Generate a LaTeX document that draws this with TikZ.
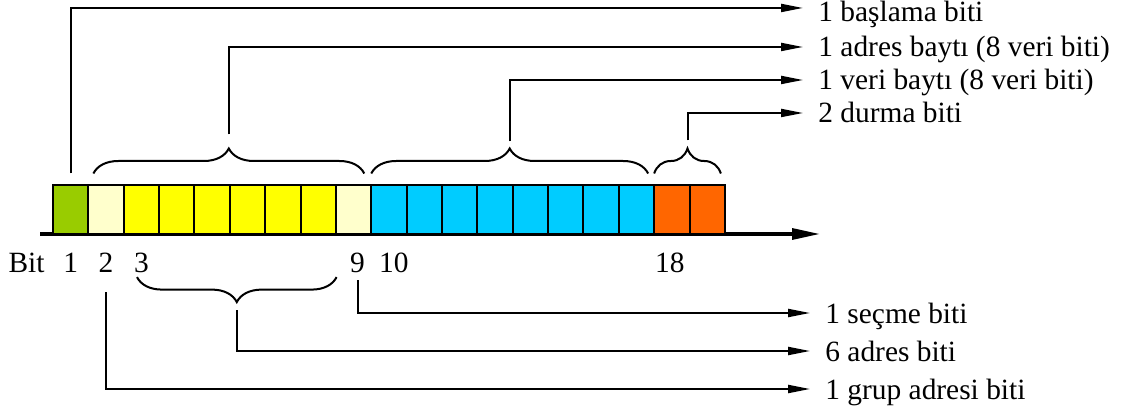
\documentclass[tikz,border=0pt]{standalone}
\usepackage{fontspec}
\setmainfont{Liberation Serif}
\usepackage{tikz}
\usetikzlibrary{arrows.meta}
\usetikzlibrary{calc}
\usetikzlibrary{positioning}
\usetikzlibrary{decorations.pathreplacing}

\definecolor{startgreen}{RGB}{153,204,0}
\definecolor{palebit}{RGB}{255,255,204}
\definecolor{addryellow}{RGB}{255,255,0}
\definecolor{datacyan}{RGB}{0,204,255}
\definecolor{stoporange}{RGB}{255,102,0}

\begin{document}
\begin{tikzpicture}
  [
    x = 0.5pt, y = -0.5pt,
    font = \fontsize{14.7}{17}\selectfont,
    node distance = 0pt and 0pt,
    cell/.style = {draw, line width = 1pt, minimum width = 17.68pt,
                  minimum height = 24.3pt, inner sep = 0pt, outer sep = 0pt},
    startbit/.style = {cell, fill=startgreen},
    ctrlbit/.style = {cell, fill=palebit},
    addrbit/.style = {cell, fill=addryellow},
    databit/.style = {cell, fill=datacyan},
    stopbit/.style = {cell, fill=stoporange},
    bitno/.style = {inner sep = 0pt},
    lbl/.style = {anchor = west, inner xsep = 7.5pt, inner ysep = 0pt,
                  text height = 1em, text depth = 0pt},
    conn/.style = {line width = 1pt, -{Triangle[length=11pt, width=4pt]}},
    brc/.style = {line width = 1pt, decorate, decoration = {brace, amplitude = 12.5pt}},
  ]

  \useasboundingbox (0,0) rectangle (1133,416);

  % time axis under the frame
  \coordinate (ax0) at (40,234);
  \coordinate (ax1) at (820,234);
  \draw[line width = 1.6pt, -{Triangle[length=14pt, width=5.5pt]}] (ax0) -- (ax1);

  % the 19 bits of the frame
  \node[startbit] (c1) at (70.7,209.8) {};
  \node[ctrlbit] [right = of c1] (c2) {};
  \node[addrbit] [right = of c2] (c3) {};
  \node[addrbit] [right = of c3] (c4) {};
  \node[addrbit] [right = of c4] (c5) {};
  \node[addrbit] [right = of c5] (c6) {};
  \node[addrbit] [right = of c6] (c7) {};
  \node[addrbit] [right = of c7] (c8) {};
  \node[ctrlbit] [right = of c8] (c9) {};
  \node[databit] [right = of c9] (c10) {};
  \node[databit] [right = of c10] (c11) {};
  \node[databit] [right = of c11] (c12) {};
  \node[databit] [right = of c12] (c13) {};
  \node[databit] [right = of c13] (c14) {};
  \node[databit] [right = of c14] (c15) {};
  \node[databit] [right = of c15] (c16) {};
  \node[databit] [right = of c16] (c17) {};
  \node[stopbit] [right = of c17] (c18) {};
  \node[stopbit] [right = of c18] (c19) {};

  % bit numbers
  \node[bitno] [below = 19pt of c1.south, anchor = base] (n1) {1};
  \node[bitno] [below = 19pt of c2.south, anchor = base] (n2) {2};
  \node[bitno] [below = 19pt of c3.south, anchor = base] (n3) {3};
  \node[bitno] [below = 19pt of c9.south, anchor = base, xshift = 2pt] (n9) {9};
  \node[bitno] [below = 19pt of c10.south, anchor = base, xshift = 2.5pt] (n10) {10};
  \node[bitno] [below = 19pt of c18.south, anchor = base, xshift = -1pt] (n18) {18};
  \node[bitno] [left = 9pt of n1.base west, anchor = base east] (bitlbl) {Bit};

  % field names
  \node[lbl, text height = 1.35em] (l1) at (803,8) {1 başlama biti};
  \node[lbl] (l2) at (803,47) {1 adres baytı (8 veri biti)};
  \node[lbl] (l3) at (803,80) {1 veri baytı (8 veri biti)};
  \node[lbl] (l4) at (803,113) {2 durma biti};
  \node[lbl] (l5) at (810,313) {1 seçme biti};
  \node[lbl] (l6) at (810,351) {6 adres biti};
  \node[lbl] (l7) at (810,389) {1 grup adresi biti};

  % braces over the bytes
  \coordinate (b1l) at ([xshift = 2.5pt, yshift = 6pt]c2.north west);
  \coordinate (b1r) at ([xshift = -3.5pt, yshift = 6pt]c9.north east);
  \coordinate (b2l) at ([yshift = 6pt]c10.north west);
  \coordinate (b2r) at ([xshift = -3pt, yshift = 6pt]c17.north east);
  \coordinate (b3l) at ([yshift = 6pt]c18.north west);
  \coordinate (b3r) at ([xshift = -2pt, yshift = 6pt]c19.north east);
  \draw[brc] (b1l) -- (b1r);
  \draw[brc] (b2l) -- (b2r);
  \draw[brc] (b3l) -- (b3r);
  \coordinate (t1) at ($(b1l)!0.5!(b1r) + (0pt,19.5pt)$);
  \coordinate (t2) at ($(b2l)!0.5!(b2r) + (0pt,16pt)$);
  \coordinate (t3) at ($(b3l)!0.5!(b3r) + (0pt,16.5pt)$);

  % brace under the address bits
  \coordinate (b4l) at ([xshift = -2.2pt, yshift = -2.5pt]n3.base);
  \coordinate (b4r) at ([xshift = -10.5pt, yshift = -2.5pt]n9.base);
  \draw[brc] (b4r) -- (b4l);
  \coordinate (t4) at ($(b4l)!0.5!(b4r) + (0pt,-16.5pt)$);

  % connectors
  \draw[conn] ([yshift = 6pt]c1.north) |- (l1.west);
  \draw[conn] (t1) |- (l2.west);
  \draw[conn] (t2) |- (l3.west);
  \draw[conn] (t3) |- (l4.west);
  \draw[conn] ([yshift = -4pt]n9.base) |- (l5.west);
  \draw[conn] (t4) |- (l6.west);
  \draw[conn] ([yshift = -10pt]n2.base) |- (l7.west);

\end{tikzpicture}
\end{document}
